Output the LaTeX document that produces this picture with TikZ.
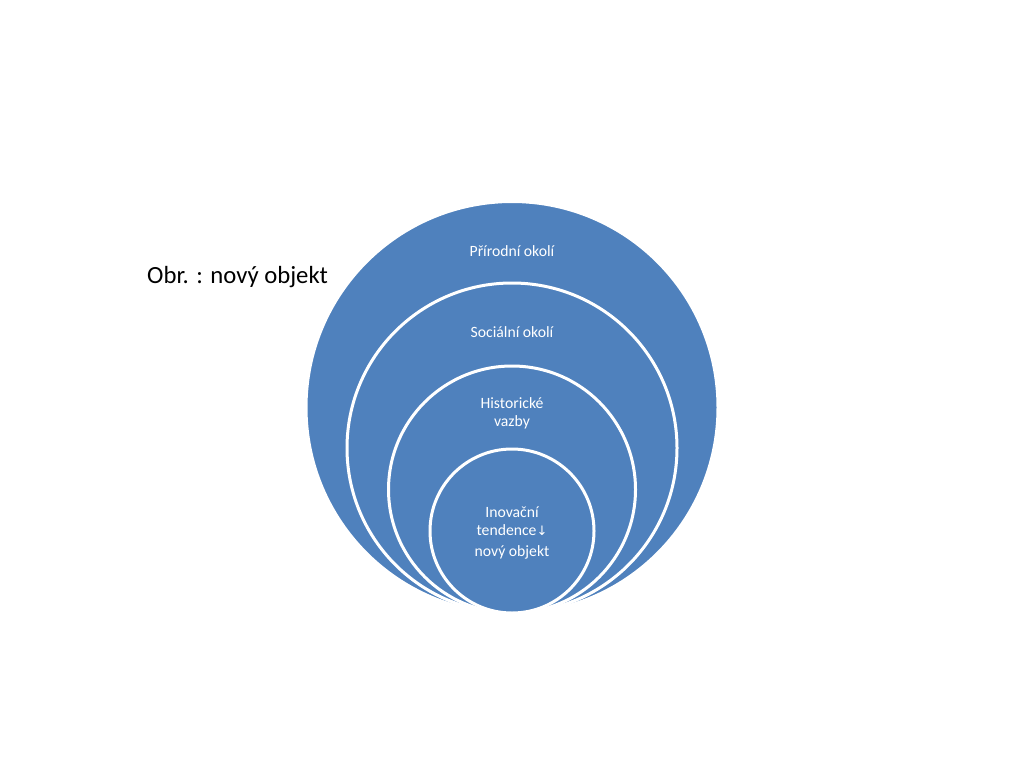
\documentclass[tikz,border=0pt]{standalone}
\usepackage{fontspec}
\setmainfont{Carlito}
\newfontfamily\arrowfont{DejaVu Sans}
\definecolor{ringblue}{HTML}{4F81BD}
\begin{document}
\begin{tikzpicture}[x=1pt,y=-1pt,
  ring/.style={circle,fill=ringblue,draw=white,line width=3pt,inner sep=0pt},
  lbl/.style={text=white,font=\fontsize{15.7}{18}\selectfont,align=center,inner sep=0pt}]
\useasboundingbox (0,0) rectangle (1024,768);
\node[ring,minimum size=412pt] (c1) at (512,407.5) {};
\node[ring,minimum size=330pt] (c2) at (512,448) {};
\node[ring,minimum size=247pt] (c3) at (512,489.5) {};
\node[ring,minimum size=164pt] (c4) at (512,531) {};
\node[lbl] (t1) at (512,251) {Přírodní okolí};
\node[lbl] (t2) at (512,332) {Sociální okolí};
\node[lbl] (t3) at (512,413) {Historické\\vazby};
\node[lbl] (t4) at (512,521) {Inovační\\tendence{\arrowfont\fontsize{13}{15}\selectfont↓}};
\node[lbl] (t5) at (512,552) {nový objekt};
\node[anchor=west,inner sep=0pt,font=\fontsize{24.7}{29}\selectfont] (ttl) at (147,277) {Obr. : nový objekt};
\end{tikzpicture}
\end{document}
